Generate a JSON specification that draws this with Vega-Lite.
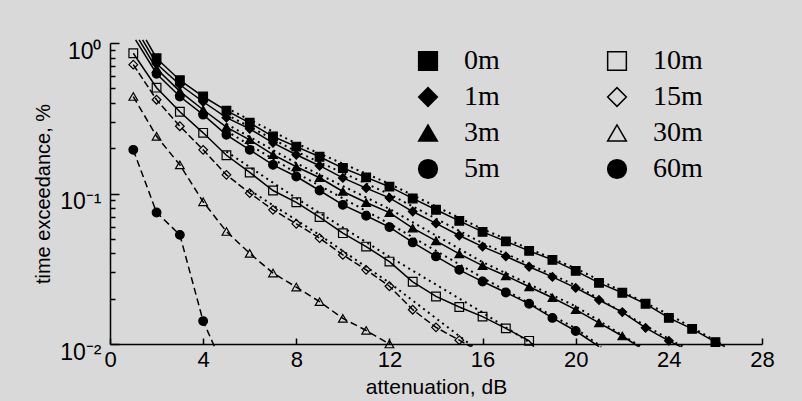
{
  "$schema": "https://vega.github.io/schema/vega-lite/v6.json",
  "width": 652,
  "height": 301,
  "autosize": {"type": "none"},
  "padding": {"left": 110, "top": 43, "right": 40, "bottom": 57},
  "background": "#d9d9d9",
  "config": {"view": {"stroke": null}, "font": "Liberation Sans"},
  "datasets": {
    "meas": [
      {"series":"0m","att":1.55,"p":1.05,"kind":"end"},
      {"series":"0m","att":2,"p":0.792,"kind":"pt"},{"series":"0m","att":3,"p":0.566,"kind":"pt"},{"series":"0m","att":4,"p":0.441,"kind":"pt"},{"series":"0m","att":5,"p":0.355,"kind":"pt"},{"series":"0m","att":6,"p":0.295,"kind":"pt"},{"series":"0m","att":7,"p":0.239,"kind":"pt"},{"series":"0m","att":8,"p":0.205,"kind":"pt"},{"series":"0m","att":9,"p":0.1754,"kind":"pt"},{"series":"0m","att":10,"p":0.1476,"kind":"pt"},{"series":"0m","att":11,"p":0.128,"kind":"pt"},{"series":"0m","att":12,"p":0.111,"kind":"pt"},{"series":"0m","att":13,"p":0.0927,"kind":"pt"},{"series":"0m","att":14,"p":0.078,"kind":"pt"},{"series":"0m","att":15,"p":0.0658,"kind":"pt"},{"series":"0m","att":16,"p":0.0556,"kind":"pt"},{"series":"0m","att":17,"p":0.0481,"kind":"pt"},{"series":"0m","att":18,"p":0.0416,"kind":"pt"},{"series":"0m","att":19,"p":0.0362,"kind":"pt"},{"series":"0m","att":20,"p":0.0306,"kind":"pt"},{"series":"0m","att":21,"p":0.0255,"kind":"pt"},{"series":"0m","att":22,"p":0.0219,"kind":"pt"},{"series":"0m","att":23,"p":0.0185,"kind":"pt"},{"series":"0m","att":24,"p":0.0149,"kind":"pt"},{"series":"0m","att":25,"p":0.0126,"kind":"pt"},{"series":"0m","att":26,"p":0.0103,"kind":"pt"},
      {"series":"0m","att":26.4,"p":0.0096,"kind":"end"},

      {"series":"1m","att":1.4,"p":1.05,"kind":"end"},
      {"series":"1m","att":2,"p":0.728,"kind":"pt"},{"series":"1m","att":3,"p":0.528,"kind":"pt"},{"series":"1m","att":4,"p":0.407,"kind":"pt"},{"series":"1m","att":5,"p":0.319,"kind":"pt"},{"series":"1m","att":6,"p":0.269,"kind":"pt"},{"series":"1m","att":7,"p":0.217,"kind":"pt"},{"series":"1m","att":8,"p":0.181,"kind":"pt"},{"series":"1m","att":9,"p":0.153,"kind":"pt"},{"series":"1m","att":10,"p":0.127,"kind":"pt"},{"series":"1m","att":11,"p":0.1086,"kind":"pt"},{"series":"1m","att":12,"p":0.0936,"kind":"pt"},{"series":"1m","att":13,"p":0.0759,"kind":"pt"},{"series":"1m","att":14,"p":0.0633,"kind":"pt"},{"series":"1m","att":15,"p":0.0526,"kind":"pt"},{"series":"1m","att":16,"p":0.0444,"kind":"pt"},{"series":"1m","att":17,"p":0.0382,"kind":"pt"},{"series":"1m","att":18,"p":0.0326,"kind":"pt"},{"series":"1m","att":19,"p":0.0279,"kind":"pt"},{"series":"1m","att":20,"p":0.0236,"kind":"pt"},{"series":"1m","att":21,"p":0.0196,"kind":"pt"},{"series":"1m","att":22,"p":0.0163,"kind":"pt"},{"series":"1m","att":23,"p":0.0128,"kind":"pt"},{"series":"1m","att":24,"p":0.0105,"kind":"pt"},
      {"series":"1m","att":24.5,"p":0.0096,"kind":"end"},

      {"series":"3m","att":1.25,"p":1.05,"kind":"end"},
      {"series":"3m","att":2,"p":0.675,"kind":"pt"},{"series":"3m","att":3,"p":0.477,"kind":"pt"},{"series":"3m","att":4,"p":0.36,"kind":"pt"},{"series":"3m","att":5,"p":0.276,"kind":"pt"},{"series":"3m","att":6,"p":0.2275,"kind":"pt"},{"series":"3m","att":7,"p":0.181,"kind":"pt"},{"series":"3m","att":8,"p":0.1505,"kind":"pt"},{"series":"3m","att":9,"p":0.1272,"kind":"pt"},{"series":"3m","att":10,"p":0.1031,"kind":"pt"},{"series":"3m","att":11,"p":0.0871,"kind":"pt"},{"series":"3m","att":12,"p":0.0747,"kind":"pt"},{"series":"3m","att":13,"p":0.0589,"kind":"pt"},{"series":"3m","att":14,"p":0.0485,"kind":"pt"},{"series":"3m","att":15,"p":0.0397,"kind":"pt"},{"series":"3m","att":16,"p":0.0332,"kind":"pt"},{"series":"3m","att":17,"p":0.0284,"kind":"pt"},{"series":"3m","att":18,"p":0.024,"kind":"pt"},{"series":"3m","att":19,"p":0.0203,"kind":"pt"},{"series":"3m","att":20,"p":0.0169,"kind":"pt"},{"series":"3m","att":21,"p":0.0138,"kind":"pt"},{"series":"3m","att":22,"p":0.0113,"kind":"pt"},
      {"series":"3m","att":22.7,"p":0.0096,"kind":"end"},

      {"series":"5m","att":1.1,"p":1.05,"kind":"end"},
      {"series":"5m","att":2,"p":0.625,"kind":"pt"},{"series":"5m","att":3,"p":0.441,"kind":"pt"},{"series":"5m","att":4,"p":0.334,"kind":"pt"},{"series":"5m","att":5,"p":0.2455,"kind":"pt"},{"series":"5m","att":6,"p":0.195,"kind":"pt"},{"series":"5m","att":7,"p":0.155,"kind":"pt"},{"series":"5m","att":8,"p":0.1297,"kind":"pt"},{"series":"5m","att":9,"p":0.1047,"kind":"pt"},{"series":"5m","att":10,"p":0.0841,"kind":"pt"},{"series":"5m","att":11,"p":0.0711,"kind":"pt"},{"series":"5m","att":12,"p":0.0598,"kind":"pt"},{"series":"5m","att":13,"p":0.0473,"kind":"pt"},{"series":"5m","att":14,"p":0.0382,"kind":"pt"},{"series":"5m","att":15,"p":0.0311,"kind":"pt"},{"series":"5m","att":16,"p":0.026,"kind":"pt"},{"series":"5m","att":17,"p":0.022,"kind":"pt"},{"series":"5m","att":18,"p":0.0185,"kind":"pt"},{"series":"5m","att":19,"p":0.0149,"kind":"pt"},{"series":"5m","att":20,"p":0.0122,"kind":"pt"},
      {"series":"5m","att":21,"p":0.0096,"kind":"end"},

      {"series":"10m","att":1,"p":0.855,"kind":"pt"},{"series":"10m","att":2,"p":0.505,"kind":"pt"},{"series":"10m","att":3,"p":0.349,"kind":"pt"},{"series":"10m","att":4,"p":0.253,"kind":"pt"},{"series":"10m","att":5,"p":0.1795,"kind":"pt"},{"series":"10m","att":6,"p":0.138,"kind":"pt"},{"series":"10m","att":7,"p":0.1047,"kind":"pt"},{"series":"10m","att":8,"p":0.0874,"kind":"pt"},{"series":"10m","att":9,"p":0.0697,"kind":"pt"},{"series":"10m","att":10,"p":0.0545,"kind":"pt"},{"series":"10m","att":11,"p":0.0444,"kind":"pt"},{"series":"10m","att":12,"p":0.0353,"kind":"pt"},{"series":"10m","att":13,"p":0.0259,"kind":"pt"},{"series":"10m","att":14,"p":0.0207,"kind":"pt"},{"series":"10m","att":15,"p":0.0176,"kind":"pt"},{"series":"10m","att":16,"p":0.0152,"kind":"pt"},{"series":"10m","att":17,"p":0.0127,"kind":"pt"},{"series":"10m","att":18,"p":0.0105,"kind":"pt"},
      {"series":"10m","att":18.2,"p":0.0096,"kind":"end"},

      {"series":"15m","att":1,"p":0.718,"kind":"pt"},{"series":"15m","att":2,"p":0.42,"kind":"pt"},{"series":"15m","att":3,"p":0.28,"kind":"pt"},{"series":"15m","att":4,"p":0.195,"kind":"pt"},{"series":"15m","att":5,"p":0.133,"kind":"pt"},{"series":"15m","att":6,"p":0.1006,"kind":"pt"},{"series":"15m","att":7,"p":0.0779,"kind":"pt"},{"series":"15m","att":8,"p":0.0629,"kind":"pt"},{"series":"15m","att":9,"p":0.0505,"kind":"pt"},{"series":"15m","att":10,"p":0.0391,"kind":"pt"},{"series":"15m","att":11,"p":0.0311,"kind":"pt"},{"series":"15m","att":12,"p":0.0242,"kind":"pt"},{"series":"15m","att":13,"p":0.0169,"kind":"pt"},{"series":"15m","att":14,"p":0.0129,"kind":"pt"},{"series":"15m","att":15,"p":0.0106,"kind":"pt"},
      {"series":"15m","att":15.5,"p":0.0096,"kind":"end"},

      {"series":"30m","att":1,"p":0.441,"kind":"pt"},{"series":"30m","att":2,"p":0.24,"kind":"pt"},{"series":"30m","att":3,"p":0.155,"kind":"pt"},{"series":"30m","att":4,"p":0.0881,"kind":"pt"},{"series":"30m","att":5,"p":0.0559,"kind":"pt"},{"series":"30m","att":6,"p":0.04,"kind":"pt"},{"series":"30m","att":7,"p":0.0296,"kind":"pt"},{"series":"30m","att":8,"p":0.0239,"kind":"pt"},{"series":"30m","att":9,"p":0.0191,"kind":"pt"},{"series":"30m","att":10,"p":0.0148,"kind":"pt"},{"series":"30m","att":11,"p":0.0123,"kind":"pt"},{"series":"30m","att":12,"p":0.01,"kind":"pt"},

      {"series":"60m","att":1,"p":0.195,"kind":"pt"},{"series":"60m","att":2,"p":0.0748,"kind":"pt"},{"series":"60m","att":3,"p":0.0531,"kind":"pt"},{"series":"60m","att":4,"p":0.0142,"kind":"pt"},
      {"series":"60m","att":4.5,"p":0.0095,"kind":"end"}
    ],
    "fit": [
      {"series":"0m","att":5,"p":0.37},{"series":"0m","att":8,"p":0.215},{"series":"0m","att":12,"p":0.116},{"series":"0m","att":16,"p":0.058},{"series":"0m","att":20,"p":0.0318},{"series":"0m","att":24,"p":0.0157},{"series":"0m","att":26.4,"p":0.0097},
      {"series":"1m","att":5,"p":0.335},{"series":"1m","att":8,"p":0.19},{"series":"1m","att":12,"p":0.099},{"series":"1m","att":16,"p":0.0468},{"series":"1m","att":20,"p":0.0245},{"series":"1m","att":24,"p":0.0108},{"series":"1m","att":24.6,"p":0.0096},
      {"series":"3m","att":5,"p":0.29},{"series":"3m","att":8,"p":0.159},{"series":"3m","att":12,"p":0.079},{"series":"3m","att":16,"p":0.035},{"series":"3m","att":20,"p":0.0178},{"series":"3m","att":22.8,"p":0.0096},
      {"series":"5m","att":5,"p":0.26},{"series":"5m","att":8,"p":0.137},{"series":"5m","att":12,"p":0.063},{"series":"5m","att":16,"p":0.0275},{"series":"5m","att":20,"p":0.0127},{"series":"5m","att":21.1,"p":0.0096},
      {"series":"10m","att":5,"p":0.19},{"series":"10m","att":8,"p":0.093},{"series":"10m","att":12,"p":0.038},{"series":"10m","att":16,"p":0.0162},{"series":"10m","att":18.3,"p":0.0096},
      {"series":"15m","att":6,"p":0.105},{"series":"15m","att":9,"p":0.053},{"series":"15m","att":12,"p":0.0255},{"series":"15m","att":15.6,"p":0.0096}
    ]
  },
  "encoding": {
    "x": {
      "field": "att", "type": "quantitative",
      "scale": {"domain": [0, 28], "nice": false, "zero": false},
      "axis": {
        "values": [0, 4, 8, 12, 16, 20, 24, 28],
        "grid": false, "tickSize": -6, "tickColor": "black", "tickWidth": 1.5,
        "domainColor": "black", "domainWidth": 1.5,
        "labelFontSize": 22, "labelColor": "black", "labelFlush": false, "labelPadding": 11,
        "title": "attenuation, dB", "titleFontSize": 21, "titleFontWeight": "normal", "titleColor": "black", "titlePadding": 6
      }
    },
    "y": {
      "field": "p", "type": "quantitative",
      "scale": {"type": "log", "domain": [0.01, 1], "nice": false},
      "axis": {
        "values": [0.01,0.02,0.03,0.04,0.05,0.06,0.07,0.08,0.09,0.1,0.2,0.3,0.4,0.5,0.6,0.7,0.8,0.9,1],
        "labelExpr": "datum.value == 1 ? '10⁰' : datum.value == 0.1 ? '10⁻¹' : datum.value == 0.01 ? '10⁻²' : ''",
        "labelOverlap": false, "labelBaseline": "alphabetic", "labelOffset": 15,
        "grid": false,
        "tickSize": {"condition": {"test": "datum.value == 1 || datum.value == 0.1 || datum.value == 0.01", "value": -9}, "value": -5},
        "tickColor": "black", "tickWidth": 1.5, "domainColor": "black", "domainWidth": 1.5,
        "labelFontSize": 23, "labelColor": "black", "labelPadding": 18,
        "title": "time exceedance, %", "titleFontSize": 20, "titleFontWeight": "normal", "titleColor": "black", "titlePadding": 6
      }
    }
  },
  "layer": [
    {
      "data": {"name": "meas"},
      "transform": [{"filter": "indexof(['0m','1m','3m','5m','10m'], datum.series) >= 0"}],
      "mark": {"type": "line", "color": "black", "strokeWidth": 1.5},
      "encoding": {"detail": {"field": "series"}}
    },
    {
      "data": {"name": "meas"},
      "transform": [{"filter": "datum.series == '15m'"}],
      "mark": {"type": "line", "color": "black", "strokeWidth": 1.5, "strokeDash": [7, 3]},
      "encoding": {"detail": {"field": "series"}}
    },
    {
      "data": {"name": "meas"},
      "transform": [{"filter": "datum.series == '30m' || datum.series == '60m'"}],
      "mark": {"type": "line", "color": "black", "strokeWidth": 1.5, "strokeDash": [7, 4]},
      "encoding": {"detail": {"field": "series"}}
    },
    {
      "data": {"name": "fit"},
      "mark": {"type": "line", "color": "black", "strokeWidth": 2, "strokeDash": [2, 4]},
      "encoding": {"detail": {"field": "series"}}
    },
    {
      "data": {"name": "meas"},
      "transform": [{"filter": "datum.kind == 'pt'"}],
      "mark": {"type": "point", "filled": true, "stroke": "black", "strokeWidth": 1.2, "size": 75, "opacity": 1},
      "encoding": {
        "shape": {
          "field": "series", "type": "nominal",
          "scale": {"domain": ["0m","1m","3m","5m","10m","15m","30m","60m"],
                    "range": ["square","diamond","triangle-up","circle","square","diamond","triangle-up","circle"]},
          "legend": {
            "title": null, "orient": "none", "legendX": 304, "legendY": 4, "columns": 2,
            "columnPadding": 103, "rowPadding": 8, "symbolSize": 350,
            "labelFont": "Liberation Serif", "labelFontSize": 28,
            "labelColor": "black", "labelOffset": 22, "padding": 0,
            "encode": {"symbols": {"update": {"stroke": {"value": "black"}, "strokeWidth": {"value": 1.5}, "opacity": {"value": 1}}}}
          }
        },
        "fill": {
          "field": "series", "type": "nominal",
          "scale": {"domain": ["0m","1m","3m","5m","10m","15m","30m","60m"],
                    "range": ["black","black","black","black","transparent","transparent","transparent","black"]}
        }
      }
    }
  ]
}
